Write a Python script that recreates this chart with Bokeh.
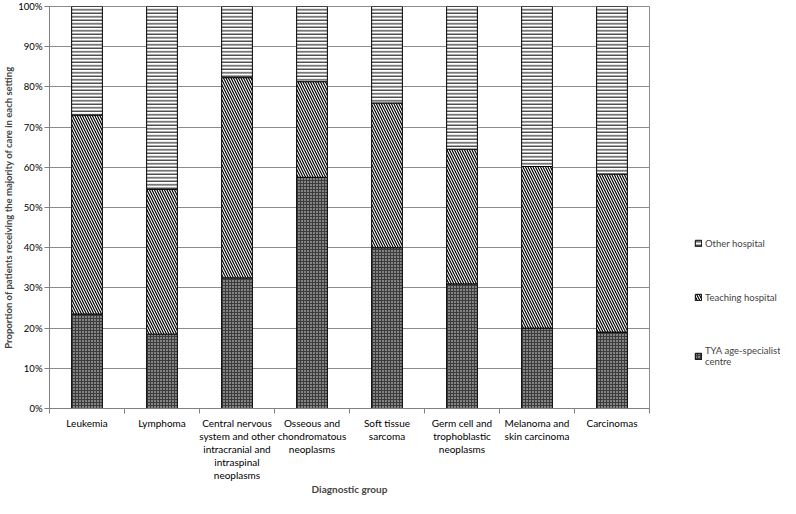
from bokeh.plotting import figure
from bokeh.layouts import row
from bokeh.models import (ColumnDataSource, FixedTicker, NumeralTickFormatter,
                          Legend, LegendItem, Range1d)
from bokeh.embed import file_html
from bokeh.resources import INLINE

categories = ["Leukemia", "Lymphoma",
              "Central nervous\nsystem and other\nintracranial and\nintraspinal\nneoplasms",
              "Osseous and\nchondromatous\nneoplasms", "Soft tissue\nsarcoma",
              "Germ cell and\ntrophoblastic\nneoplasms", "Melanoma and\nskin carcinoma",
              "Carcinomas"]
tya = [23.5, 18.5, 32.5, 57.5, 40.0, 31.0, 20.0, 19.0]
teaching = [49.5, 36.0, 49.8, 23.8, 36.0, 33.5, 40.2, 39.3]
other = [27.0, 45.5, 17.7, 18.7, 24.0, 35.5, 39.8, 41.7]
series_names = ["TYA age-specialist\ncentre", "Teaching hospital", "Other hospital"]
y_ticks = [0, 10, 20, 30, 40, 50, 60, 70, 80, 90, 100]

FONT = "Lato"
FILLS = ["#3c3c3c", "white", "white"]
HATCHES = ["dot", "left_diagonal_line", "horizontal_line"]
HCOLORS = ["#f0f0f0", "black", "black"]
HSCALES = [3, 5, 3.5]
HWEIGHTS = [1, 1.2, 1]
STACK = ["tya", "teaching", "other"]

xs = [i + 0.5 for i in range(len(categories))]
source = ColumnDataSource(dict(x=xs,
                               tya=[v / 100 for v in tya],
                               teaching=[v / 100 for v in teaching],
                               other=[v / 100 for v in other]))

p = figure(width=651, height=498, x_range=Range1d(0, len(categories)),
           y_range=Range1d(0, 1), output_backend="svg", toolbar_location=None,
           min_border_left=40, min_border_right=2, min_border_top=6, min_border_bottom=0)

p.vbar_stack(STACK, x="x", width=0.41, source=source,
             fill_color=FILLS, line_color="black", line_width=1,
             hatch_pattern=HATCHES, hatch_color=HCOLORS,
             hatch_scale=HSCALES, hatch_weight=HWEIGHTS)

p.xaxis.ticker = FixedTicker(ticks=xs, minor_ticks=list(range(len(categories) + 1)))
p.xaxis.major_label_overrides = {x: c for x, c in zip(xs, categories)}
p.xaxis.major_tick_line_color = None
p.xaxis.major_tick_in = 0
p.xaxis.major_tick_out = 0
p.xaxis.minor_tick_in = 0
p.xaxis.minor_tick_out = 5
p.xaxis.minor_tick_line_color = "#808080"
p.xaxis.axis_line_color = "#808080"
p.xaxis.major_label_text_font = FONT
p.xaxis.major_label_text_font_size = "10px"
p.xaxis.major_label_text_color = "black"
p.xaxis.major_label_text_line_height = 1.1
p.xaxis.major_label_standoff = 3
p.xaxis.axis_label = "Diagnostic group"
p.xaxis.axis_label_text_font = FONT
p.xaxis.axis_label_text_font_style = "bold"
p.xaxis.axis_label_text_font_size = "10px"
p.xaxis.axis_label_standoff = -1

p.yaxis.ticker = FixedTicker(ticks=[v / 100 for v in y_ticks])
p.yaxis.formatter = NumeralTickFormatter(format="0%")
p.yaxis.minor_tick_line_color = None
p.yaxis.major_tick_in = 0
p.yaxis.major_tick_out = 5
p.yaxis.major_tick_line_color = "#808080"
p.yaxis.axis_line_color = "#808080"
p.yaxis.major_label_text_font = FONT
p.yaxis.major_label_text_font_size = "9.5px"
p.yaxis.major_label_text_color = "black"
p.yaxis.major_label_standoff = 2
p.yaxis.axis_label = "Proportion of patients receiving the majority of care in each setting"
p.yaxis.axis_label_text_font = FONT
p.yaxis.axis_label_text_font_style = "bold"
p.yaxis.axis_label_text_font_size = "9.5px"
p.yaxis.axis_label_standoff = 1

p.xgrid.grid_line_color = None
p.ygrid.grid_line_color = "#8c8c8c"
p.ygrid.grid_line_width = 1
p.outline_line_color = "#8c8c8c"

# legend panel: a small figure holding only the legend; its x range lies away from
# the bars so only the legend swatches (styled like the bars) are seen
lg = figure(width=129, height=498, x_range=Range1d(-3, -2), y_range=Range1d(0, 1),
            output_backend="svg", toolbar_location=None, x_axis_type=None,
            y_axis_type=None, min_border=0, outline_line_color=None)
swatches = lg.vbar_stack(STACK, x="x", width=0.41, source=source,
                         fill_color=FILLS, line_color="black", line_width=1,
                         hatch_pattern=HATCHES, hatch_color=HCOLORS,
                         hatch_scale=HSCALES, hatch_weight=HWEIGHTS)
legend = Legend(items=[LegendItem(label=series_names[i], renderers=[swatches[i]])
                       for i in (2, 1, 0)],
                location=(43, 41), spacing=42, glyph_width=8, glyph_height=8,
                label_height=12, label_width=10,
                label_text_font=FONT, label_text_font_size="9.5px",
                label_standoff=3, border_line_color=None, background_fill_alpha=0,
                padding=0, margin=0)
lg.add_layout(legend, "center")

layout = row(p, lg, spacing=0)
open("out.html", "w").write(file_html(layout, INLINE))
